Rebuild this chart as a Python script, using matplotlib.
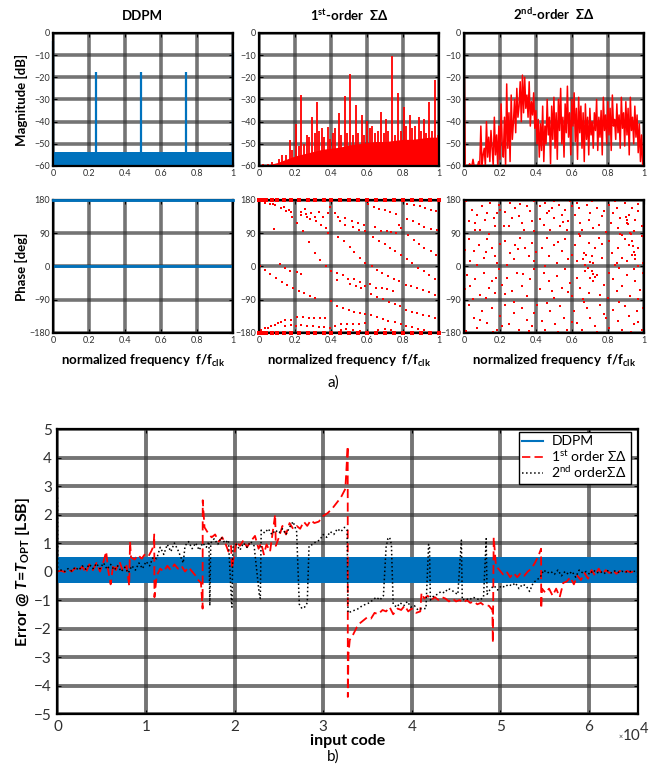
import matplotlib
matplotlib.use('Agg')
import matplotlib.pyplot as plt
from matplotlib.lines import Line2D

plt.rcParams['font.family'] = ['Lato', 'DejaVu Sans']
plt.rcParams['mathtext.fontset'] = 'custom'
plt.rcParams['mathtext.rm'] = 'Lato'
plt.rcParams['mathtext.bf'] = 'Lato:bold'
plt.rcParams['mathtext.it'] = 'Lato:italic'
plt.rcParams['mathtext.bfit'] = 'Lato:italic:bold'

BLUE = '#0072BD'
RED = '#FF0000'

# ---------------- datos: espectro (magnitud) ----------------
# DDPM
ddpm_floor_f = [0.0, 1.0]
ddpm_floor_db = [-53.6, -53.6]
ddpm_spur_f = [0.0, 0.24, 0.49, 0.74, 1.0]
ddpm_spur_db = [-3.5, -17.8, -17.5, -17.8, -8.5]

# 1er orden: envolvente del piso de ruido + espurios
sd1_floor_f = [0.0, 0.05, 0.1, 0.15, 0.2, 0.25, 0.3, 0.35, 0.4, 0.45, 0.5,
               0.55, 0.6, 0.65, 0.7, 0.75, 0.8, 0.85, 0.9, 0.95, 1.0]
sd1_floor_db = [-60, -59.5, -58.5, -57, -55.5, -54.5, -53.5, -52.5, -52, -51.5, -50.5,
                -50, -49.5, -49, -49, -48.5, -48, -48, -47.5, -47, -47]
sd1_spur_f = [0.0, 0.02, 0.05, 0.07, 0.09, 0.11, 0.13, 0.15, 0.17, 0.185, 0.207, 0.22,
              0.235, 0.25, 0.265, 0.28, 0.296, 0.31, 0.322, 0.335, 0.35, 0.36, 0.383,
              0.395, 0.41, 0.42, 0.443, 0.455, 0.476, 0.49, 0.504, 0.52, 0.537, 0.55,
              0.572, 0.585, 0.6, 0.615, 0.63, 0.645, 0.66, 0.681, 0.695, 0.707, 0.72,
              0.741, 0.755, 0.774, 0.79, 0.804, 0.82, 0.837, 0.85, 0.865, 0.887, 0.9,
              0.915, 0.93, 0.944, 0.96, 0.981, 0.994]
sd1_spur_db = [-4, -59, -59, -58, -59, -57, -55, -55, -48.5, -53, -41, -51,
               -28, -50, -46, -47, -38, -45, -31, -44, -43, -47, -42.5,
               -48, -45, -43, -36, -46, -28.4, -45, -18.4, -46, -32.4, -45,
               -37, -46, -39.5, -43, -42, -45, -44, -35.7, -45, -39, -44,
               -10.3, -46, -27, -44, -33.3, -42, -37, -43, -42, -38, -44,
               -39, -45, -31.2, -44, -21.4, -46]

# 2do orden: 161 puntos, f = i/160
sd2_mag_db = [-4, -60, -60, -60, -60, -59, -60, -60, -57, -60, -60, -60, -60, -58, -60,
              -42, -60, -55, -52, -60, -40, -56, -47, -58, -44, -52, -60, -38, -55, -46,
              -60, -42, -57, -32, -50, -56, -38, -60, -23, -52, -36, -58, -28, -48, -40,
              -30, -45, -25, -38, -33, -22, -40, -19, -36, -20, -34, -28, -38, -22, -42,
              -31, -37, -27, -43, -35, -50, -39, -56, -41, -53, -33, -58, -42, -50, -30,
              -46, -38, -59, -33, -48, -29, -52, -36, -57, -30, -44, -25, -50, -38, -56,
              -32, -45, -24, -47, -36, -55, -30, -42, -27, -49, -34, -57, -29, -45, -33,
              -52, -36, -58, -32, -48, -38, -55, -34, -46, -40, -52, -36, -44, -30, -53,
              -38, -47, -35, -55, -29, -44, -37, -50, -31, -46, -34, -53, -28, -42, -39,
              -48, -32, -45, -37, -52, -29, -43, -36, -51, -31, -46, -34, -55, -29, -44,
              -38, -50, -33, -47, -37, -54, -41, -58, -46, -60, -56]
sd2_mag_f = [i / 160 for i in range(len(sd2_mag_db))]

# ---------------- datos: fase ----------------
ddpm_ph_f = [0.0, 1.0]
ddpm_ph_zero = [0, 0]
ddpm_ph_top = [180, 180]

sd1_ph_f = [0.031, 0.059, 0.078, 0.091, 0.12, 0.139, 0.152, 0.165, 0.18, 0.185, 0.213, 0.231,
            0.235, 0.263, 0.269, 0.257, 0.291, 0.285, 0.319, 0.313, 0.333, 0.346, 0.356, 0.374,
            0.383, 0.393, 0.424, 0.439, 0.448, 0.48, 0.48, 0.517, 0.55, 0.583, 0.606, 0.639,
            0.67, 0.698, 0.731, 0.761, 0.776, 0.791, 0.824, 0.861, 0.894, 0.924, 0.957, 0.987,
            0.824, 0.856, 0.887, 0.92, 0.957, 0.991, 0.522, 0.554, 0.587, 0.646, 0.68, 0.713,
            0.735, 0.763, 0.083, 0.244, 0.383,
            0.439, 0.472, 0.504, 0.531, 0.559, 0.587, 0.278, 0.309, 0.341, 0.37, 0.402, 0.633,
            0.665, 0.698, 0.73, 0.759, 0.791, 0.822, 0.85, 0.883, 0.915, 0.944, 0.976, 0.828,
            0.861, 0.891, 0.92, 0.954, 0.985,
            0.004, 0.031, 0.063, 0.093, 0.128, 0.157, 0.189, 0.115, 0.143, 0.174, 0.213, 0.235,
            0.22, 0.25, 0.281, 0.313, 0.433, 0.465, 0.494, 0.526, 0.559, 0.591, 0.62, 0.652,
            0.683, 0.713, 0.743, 0.435, 0.506, 0.539, 0.569, 0.628, 0.654, 0.683, 0.717, 0.75,
            0.781, 0.817, 0.846, 0.876, 0.911, 0.943, 0.976, 0.402, 0.435, 0.467, 0.498, 0.528,
            0.559, 0.591, 0.624, 0.654, 0.691, 0.724, 0.754, 0.785, 0.817, 0.85, 0.88, 0.913,
            0.943, 0.976,
            0.624, 0.657, 0.687, 0.72, 0.754, 0.787, 0.82, 0.85, 0.883, 0.917,
            0.013, 0.031, 0.05, 0.069, 0.087, 0.106, 0.124, 0.146, 0.18, 0.213, 0.244, 0.276,
            0.306, 0.337, 0.365, 0.143, 0.176, 0.207, 0.235, 0.269, 0.3, 0.331, 0.361, 0.393,
            0.424, 0.457, 0.491, 0.522, 0.554, 0.587, 0.454, 0.485, 0.522, 0.559, 0.661, 0.698,
            0.735]
sd1_ph_deg = [171, 169, 169, 167, 158, 161, 149, 153, 147, 135, 117, 147,
              140, 143, 135, 155, 144, 129, 122, 135, 147, 113, 135, 104,
              144, 160, 144, 133, 122, 111, 131, 122, 117, 113, 169, 160,
              156, 152, 147, 142, 111, 104, 169, 167, 163, 158, 153, 149,
              129, 122, 116, 108, 102, 99, 106, 99, 95, 106, 97, 95,
              92, 90, 101, 95, 90,
              81, 68, 52, 39, 23, 9, 65, 36, 17, 2, -13, 79,
              70, 61, 51, 42, 32, 21, 9, -3, -13, -24, -34, 84,
              71, 61, 50, 41, 32,
              0, -9, -21, -31, -42, -50, -59, 6, -5, -11, -15, -21,
              -66, -72, -79, -86, -18, -24, -33, -34, -43, -52, -48, -57,
              -59, -61, -66, -36, -48, -54, -59, 0, -9, -18, -27, -34,
              -40, -50, -54, -59, -64, -69, -77, -93, -108, -113, -117, -122,
              -126, -129, -75, -82, -89, -95, -102, -108, -117, -122, -126, -131,
              -135, -140,
              -132, -136, -141, -147, -151, -156, -160, -164, -169, -172,
              -171, -167, -167, -162, -158, -153, -151, -146, -144, -138, -138, -140,
              -140, -140, -140, -160, -158, -160, -158, -160, -161, -163, -165, -167,
              -160, -156, -156, -156, -156, -154, -171, -169, -172, -174, -171, -169,
              -171]
# puntos sobre los bordes +-180
sd1_edge_f = [0.0, 0.02, 0.04, 0.07, 0.1, 0.14, 0.18, 0.22, 0.27, 0.31, 0.36, 0.4,
              0.45, 0.5, 0.55, 0.6, 0.65, 0.7, 0.75, 0.8, 0.85, 0.9, 0.95, 1.0]

sd2_ph_f = [0.044, 0.072, 0.1, 0.128, 0.119, 0.146, 0.165, 0.174, 0.183, 0.063, 0.091, 0.026,
            0.193, 0.23, 0.257, 0.285, 0.267, 0.304, 0.322, 0.331, 0.35, 0.248, 0.369, 0.378,
            0.387, 0.424, 0.452, 0.461, 0.443, 0.489, 0.498, 0.48, 0.526, 0.544, 0.535, 0.563,
            0.581, 0.572, 0.6, 0.628, 0.619, 0.646, 0.637, 0.656, 0.683, 0.702, 0.693, 0.72,
            0.739, 0.748, 0.767, 0.804, 0.831, 0.819, 0.85, 0.869, 0.859, 0.896, 0.915, 0.906,
            0.933, 0.952, 0.943, 0.97, 0.989, 0.924,
            0.026, 0.054, 0.081, 0.109, 0.128, 0.156, 0.174, 0.183, 0.035, 0.23, 0.257, 0.276,
            0.285, 0.313, 0.341, 0.359, 0.378, 0.387, 0.433, 0.461, 0.47, 0.498, 0.517, 0.544,
            0.563, 0.581, 0.619, 0.628, 0.646, 0.665, 0.693, 0.711, 0.72, 0.73, 0.748, 0.767,
            0.804, 0.822, 0.85, 0.859, 0.878, 0.896, 0.915, 0.933, 0.952, 0.97, 0.989, 0.998,
            0.906, 0.66, 0.675, 0.69, 0.70, 0.71, 0.68, 0.72, 0.73, 0.93, 0.935, 0.94, 0.945,
            0.95, 0.9, 0.905, 0.91,
            0.017, 0.035, 0.063, 0.091, 0.109, 0.137, 0.156, 0.174, 0.193, 0.211, 0.239, 0.267,
            0.294, 0.322, 0.35, 0.369, 0.387, 0.443, 0.47, 0.489, 0.517, 0.544, 0.563, 0.591,
            0.6, 0.628, 0.646, 0.674, 0.693, 0.72, 0.739, 0.757, 0.776, 0.804, 0.831, 0.85,
            0.878, 0.906, 0.924, 0.952, 0.98, 0.998, 0.943,
            0.026, 0.054, 0.072, 0.1, 0.128, 0.156, 0.183, 0.202, 0.23, 0.248, 0.276, 0.304,
            0.322, 0.35, 0.378, 0.406, 0.433, 0.452, 0.48, 0.507, 0.535, 0.554, 0.572, 0.609,
            0.628, 0.656, 0.683, 0.702, 0.73, 0.757, 0.776, 0.804, 0.831, 0.859, 0.878, 0.896,
            0.915, 0.943, 0.961, 0.989, 0.998,
            0.01, 0.06, 0.14, 0.2, 0.22, 0.31, 0.39, 0.42, 0.47, 0.5, 0.55, 0.59, 0.64, 0.71,
            0.78, 0.79, 0.84, 0.87, 0.97, 0.005, 0.07, 0.12, 0.2, 0.24, 0.3, 0.4, 0.45, 0.52,
            0.6, 0.77, 0.84, 0.88, 0.97, 0.005, 0.05, 0.12, 0.18, 0.23, 0.33, 0.42, 0.5, 0.58,
            0.66, 0.7, 0.8, 0.86, 0.97, 0.01, 0.09, 0.16, 0.21, 0.28, 0.36, 0.39, 0.46, 0.52,
            0.6, 0.67, 0.74, 0.79, 0.86, 0.93, 0.97]
sd2_ph_deg = [154, 140, 163, 145, 127, 172, 131, 109, 145, 118, 100, 122,
              166, 148, 172, 158, 131, 136, 118, 100, 163, 109, 149, 122,
              95, 163, 172, 145, 113, 158, 131, 100, 167, 140, 109, 154,
              122, 100, 163, 172, 140, 118, 158, 100, 167, 145, 127, 104,
              158, 113, 136, 167, 145, 118, 158, 131, 104, 172, 140, 118,
              158, 127, 97, 149, 109, 91,
              73, 41, 59, 23, 73, 50, 28, 10, 14, 68, 37, 19,
              59, 77, 50, 28, 64, 14, 50, 77, 28, 59, 10, 41,
              73, 19, 59, 14, 82, 37, 64, 28, 10, 50, 77, 23,
              68, 37, 10, 50, 23, 73, 59, 32, 19, 50, 82, 10,
              14, 20, 5, -5, 12, -12, 30, -20, -28, 88, 70, 55, 40,
              30, 135, 125, 115,
              -22, -54, -35, -76, -18, -58, -40, -72, -8, -49, -31, -67,
              -18, -54, -81, -35, -8, -18, -40, -67, -26, -58, -8, -45,
              -81, -31, -58, -13, -72, -40, -22, -76, -49, -18, -35, -67,
              -54, -22, -81, -40, -63, -18, -8,
              -103, -139, -166, -121, -153, -112, -171, -135, -103, -157, -126, -171,
              -112, -144, -162, -103, -148, -171, -121, -157, -108, -139, -171, -121,
              -153, -171, -112, -139, -162, -103, -130, -166, -117, -148, -171, -108,
              -135, -157, -121, -171, -112,
              176, 98, 88, 152, 110, 170, 176, 128, 150, 178, 120, 176, 88, 178,
              150, 92, 176, 88, 170, 45, 5, 40, 62, 4, 48, 40, 2, 66,
              30, 60, 5, 85, 2, -60, -88, -85, -30, -75, -20, -60, -85, -70,
              -88, -30, -85, -5, -88, -175, -145, -178, -160, -95, -175, -125, -100, -178,
              -150, -95, -178, -140, -95, -178, -150]

# ---------------- datos: error vs código de entrada ----------------
code_ticks = [0, 10000, 20000, 30000, 40000, 50000, 60000]
code_tick_labels = ['0', '1', '2', '3', '4', '5', '6']

ddpm_err_x = [0, 65535]
ddpm_err_top = [0.52, 0.52]
ddpm_err_bot = [-0.41, -0.41]

sd1_err_x = [0, 400, 800, 1200, 1600, 2000, 2400, 2800, 3200, 3600, 4000, 4400, 4800, 5200,
             5500, 5700, 6000, 6300, 6600, 7000, 7400, 7800, 8100, 8192, 8300, 8700, 9100,
             9500, 9900, 10300, 10600, 10850, 10923, 10950, 11200, 11600, 12000, 12400,
             12800, 13200, 13600, 14000, 14400, 14800, 15200, 15600, 15900, 16200, 16384,
             16400, 16600, 17000, 17400, 17800, 18200, 18600, 19000, 19300, 19600, 19700,
             20200, 20600, 21000, 21400, 21800, 22300, 22700, 23000, 23300, 23600, 24000,
             24576, 24650, 25000, 25400, 25800, 26200, 26600, 27000, 27400, 27800, 28200,
             28600, 29000, 29500, 30000, 30500, 31000, 31500, 32000, 32500, 32768, 32780,
             32850, 33000, 33400, 33800, 34200, 34600, 35000, 35400, 35800, 36200, 36700,
             37100, 37500, 37900, 38400, 38800, 39200, 39600, 40000, 40500, 40960, 41100,
             41400, 41800, 42200, 42600, 43000, 43400, 43800, 44200, 44600, 45000, 45400,
             45800, 46200, 46600, 47000, 47400, 47800, 48200, 48700, 49100, 49152, 49250,
             49500, 49900, 50300, 50700, 51100, 51500, 51900, 52300, 52700, 53100, 53500,
             53900, 54300, 54600, 54613, 54700, 55100, 55500, 55900, 56300, 56700, 57100,
             57500, 57900, 58300, 58700, 59100, 59500, 59900, 60300, 60700, 61100, 61500,
             61900, 62300, 62700, 63100, 63500, 63900, 64300, 64700, 65100, 65535]
sd1_err = [0.0, 0.03, -0.02, 0.08, 0.0, 0.12, 0.02, 0.18, -0.05, 0.25, 0.05, 0.3, 0.0, 0.35,
           0.7, 0.1, -0.45, 0.25, 0.05, 0.35, 0.0, 0.2, -0.5, 1.05, 0.5, 0.42, 0.58,
           0.45, 0.62, 0.55, 0.72, 0.9, 1.3, -0.9, -0.15, 0.1, 0.0, 0.2,
           0.05, 0.25, 0.1, 0.2, 0.0, 0.15, 0.0, -0.15, -0.3, -0.4, -1.3,
           2.5, 1.55, 1.35, 1.2, 1.3, 1.05, 1.2, 0.95, 0.7, 0.9, 0.1,
           1.05, 0.9, 1.1, 0.85, 1.05, 1.25, 0.8, 1.0, 0.6, 0.95, 0.7,
           2.0, 0.9, 1.2, 1.6, 1.3, 1.7, 1.5, 1.6, 1.5, 1.75, 1.6,
           1.8, 1.7, 1.75, 1.95, 2.05, 2.2, 2.4, 2.6, 2.9, 4.4, -4.4,
           -2.9, -2.4, -2.2, -1.95, -1.8, -1.7, -1.6, -1.65, -1.45, -1.5, -1.35,
           -1.4, -1.25, -1.5, -1.3, -1.35, -1.2, -1.4, -1.3, -1.45, -1.4, -0.75,
           -0.95, -0.85, -1.0, -0.9, -1.0, -0.9, -0.95, -1.05, -0.95, -1.05, -1.0,
           -1.1, -1.0, -1.1, -1.05, -1.15, -1.1, -1.2, -1.2, -1.35, -2.5, 1.2,
           0.2, 0.05, -0.1, 0.0, -0.2, -0.05, -0.2, -0.05, -0.15, 0.0, 0.1,
           0.3, 0.55, 0.8, -1.3, -0.6, -0.75, -0.6, -0.85, -0.6, -0.9, -0.4,
           -0.35, -0.2, -0.45, -0.15, -0.3, -0.05, -0.25, 0.05, -0.15, 0.1, -0.1,
           0.05, -0.05, 0.05, -0.08, 0.02, -0.05, 0.02, -0.03, 0.01, 0.0]

sd2_err_x = [0, 30, 400, 800, 1200, 1600, 2000, 2400, 2800, 3200, 3600, 4000, 4400, 4800,
             5200, 5600, 6000, 6400, 6800, 7200, 7600, 8000, 8400, 8800, 9200, 9600, 10000,
             10400, 10800, 11200, 11600, 12000, 12400, 12800, 13200, 13600, 14000, 14200,
             14400, 14800, 15200, 15600, 16000, 16400, 16800, 17100, 17200, 17300, 17700,
             18100, 18500, 18900, 19300, 19650, 19700, 19800, 20200, 20600, 21000, 21400,
             21800, 22200, 22800, 22900, 23000, 23400, 23800, 24200, 24600, 25000, 25400,
             25800, 26200, 26600, 27000, 27300, 27600, 27900, 28200, 28400, 28800, 29200,
             29600, 30000, 30400, 30800, 31200, 31600, 32000, 32400, 32700, 32800, 33200,
             33600, 34000, 34400, 34800, 35200, 35600, 36000, 36400, 36800, 37100, 37300,
             37500, 37700, 37900, 38300, 38700, 39100, 39500, 39900, 40300, 40700, 41100,
             41600, 41900, 42000, 42100, 42500, 42900, 43300, 43700, 44100, 44500, 44900,
             45200, 45600, 45700, 46100, 46500, 46900, 47300, 47700, 48100, 48400, 48500,
             48900, 49300, 49700, 50100, 50500, 50900, 51300, 51700, 52100, 52500, 52900,
             53300, 53700, 54100, 54500, 54900, 55300, 55700, 56100, 56500, 56900, 57300,
             57700, 58100, 58500, 58900, 59300, 59700, 60100, 60500, 60900, 61300, 61700,
             62100, 62500, 62900, 63300, 63700, 64100, 64500, 64900, 65500, 65535]
sd2_err = [2.6, 0.0, 0.05, 0.0, 0.1, 0.02, 0.15, 0.05, 0.2, 0.08, 0.25, 0.1, 0.28, 0.1,
           0.3, 0.08, 0.25, 0.05, 0.2, 0.0, 0.15, -0.05, 0.2, 0.05, 0.3, 0.1, 0.35,
           0.2, 0.5, 0.45, 0.85, 0.6, 0.95, 0.7, 1.0, 0.75, 0.45, 0.3,
           0.9, 1.05, 0.8, 1.0, 0.75, 1.0, 0.85, 1.05, -1.2, 1.0, 1.15,
           0.95, 1.2, 1.0, 1.1, -1.1, -1.25, 0.85, 0.95, 0.75, 1.0, 0.85,
           1.05, 0.9, -0.85, -0.95, 1.45, 1.35, 1.5, 1.3, 1.45, 1.35, 1.5,
           1.3, 1.55, 1.75, 1.4, -1.15, -1.3, -1.25, -1.1, 0.9, 0.95, 1.05,
           1.1, 1.3, 1.2, 1.4, 1.3, 1.5, 1.4, 1.55, 1.45, -1.45, -1.4,
           -1.35, -1.3, -1.2, -1.15, -1.1, -1.0, -0.9, -1.0, -0.85, 0.85, 1.15,
           1.2, 0.95, -1.15, -1.25, -1.1, -1.2, -1.05, -1.25, -1.2, -1.35, -1.3,
           -1.3, 0.95, 0.85, -1.0, -0.85, -0.8, -0.7, -0.75, -0.6, -0.65, -0.75,
           -0.8, 1.1, -1.0, -0.95, -1.0, -0.9, -0.95, -1.0, -0.9, 1.15, -0.8,
           -0.6, -0.5, -0.65, -0.5, -0.55, -0.45, -0.5, -0.4, -0.6, -0.45, -0.5,
           -0.7, -0.4, -0.3, -0.2, 0.05, -0.05, 0.0, -0.1, 0.05, -0.15, 0.0,
           -0.1, 0.0, -0.2, 0.05, -0.05, 0.0, -0.1, 0.05, -0.05, 0.0, -0.08,
           0.03, -0.05, 0.02, -0.03, 0.01, -0.02, 0.0, 0.01, 0.0, -2.6]


def estilo(ax, fs, lw_grid=2.6, pad=2):
    ax.grid(True, color='0.2', lw=lw_grid, alpha=0.68)
    for s in ax.spines.values():
        s.set_linewidth(1.6)
        s.set_color('black')
        s.set_zorder(4)
    ax.tick_params(direction='in', length=3, width=0.8, labelsize=fs,
                   labelcolor='#303030', pad=pad, top=True, right=True)


fig = plt.figure(figsize=(6.66, 7.72), dpi=100)

col_left = [0.0796, 0.3889, 0.6967]
col_w = 0.2700
row_bot = [0.785, 0.5687]
row_h = 0.1723

titulos = ['DDPM', r'1$^{\mathbf{st}}$-order  ΣΔ', r'2$^{\mathbf{nd}}$-order  ΣΔ']
fx = [0, 0.2, 0.4, 0.6, 0.8, 1]

ax_mag = [fig.add_axes([col_left[i], row_bot[0], col_w, row_h]) for i in range(3)]
ax_ph = [fig.add_axes([col_left[i], row_bot[1], col_w, row_h]) for i in range(3)]

# magnitud
a = ax_mag[0]
a.fill_between(ddpm_floor_f, -60, ddpm_floor_db, color=BLUE, lw=0, zorder=2)
a.vlines(ddpm_spur_f, -60, ddpm_spur_db, color=BLUE, lw=1.6, zorder=3, clip_on=False)

a = ax_mag[1]
a.fill_between(sd1_floor_f, -60, sd1_floor_db, color=RED, lw=0, zorder=2)
a.vlines(sd1_spur_f, -60, sd1_spur_db, color=RED, lw=1.3, zorder=3, clip_on=False)

a = ax_mag[2]
a.plot(sd2_mag_f, sd2_mag_db, color=RED, lw=1.1, zorder=3)

for i, a in enumerate(ax_mag):
    a.set_xlim(0, 1)
    a.set_ylim(-60, 0)
    a.set_xticks(fx)
    a.set_xticklabels(['0', '0.2', '0.4', '0.6', '0.8', '1'])
    a.set_yticks([-60, -50, -40, -30, -20, -10, 0])
    estilo(a, 6.5)
    a.set_title(titulos[i], fontsize=9.5, fontweight='bold', pad=9)
ax_mag[0].set_ylabel('Magnitude [dB]', fontsize=9.5, fontweight='bold')
ax_mag[0].yaxis.set_label_coords(-0.14, 0.5)

# fase
a = ax_ph[0]
a.plot(ddpm_ph_f, ddpm_ph_zero, color=BLUE, lw=2, zorder=3)
a.plot(ddpm_ph_f, ddpm_ph_top, color=BLUE, lw=2, zorder=5, clip_on=False)

a = ax_ph[1]
a.plot(sd1_ph_f, sd1_ph_deg, ls='none', marker='s', ms=1.6, mew=0, color=RED, zorder=3)
a.plot(sd1_edge_f, [180] * len(sd1_edge_f), ls='none', marker='s', ms=2.2, mew=0,
       color=RED, zorder=5, clip_on=False)
a.plot(sd1_edge_f, [-180] * len(sd1_edge_f), ls='none', marker='s', ms=2.2, mew=0,
       color=RED, zorder=5, clip_on=False)

a = ax_ph[2]
a.plot(sd2_ph_f, sd2_ph_deg, ls='none', marker='s', ms=1.6, mew=0, color=RED, zorder=3)

for a in ax_ph:
    a.set_xlim(0, 1)
    a.set_ylim(-180, 180)
    a.set_xticks(fx)
    a.set_xticklabels(['0', '0.2', '0.4', '0.6', '0.8', '1'])
    a.set_yticks([-180, -90, 0, 90, 180])
    estilo(a, 6.5)
    a.set_xlabel(r'normalized frequency  f/f$_{\mathbf{clk}}$', fontsize=9.5,
                 fontweight='bold')
    a.xaxis.set_label_coords(0.5, -0.15)
ax_ph[0].set_ylabel('Phase [deg]', fontsize=9.5, fontweight='bold')
ax_ph[0].yaxis.set_label_coords(-0.14, 0.5)

fig.text(0.5, 1 - 383 / 772, 'a)', ha='center', va='center', fontsize=11)

# error vs código
ax = fig.add_axes([0.0863, 0.0751, 0.8716, 0.3692])
ax.fill_between(ddpm_err_x, ddpm_err_bot, ddpm_err_top, color=BLUE, lw=0, zorder=2)
ax.plot(sd1_err_x, sd1_err, color=RED, ls='--', dashes=(5, 2.5), lw=1.3, zorder=3)
ax.plot(sd2_err_x, sd2_err, color='black', ls=':', lw=1.1, zorder=4)
ax.set_xlim(0, 65536)
ax.set_ylim(-5, 5)
ax.set_xticks(code_ticks)
ax.set_xticklabels(code_tick_labels)
ax.set_yticks(range(-5, 6))
estilo(ax, 11, lw_grid=2.8, pad=4)
ax.set_xlabel('input code', fontsize=11.5, fontweight='bold', labelpad=0)
ax.set_ylabel(r'Error @ $\mathbfit{T}$=$\mathbfit{T}_{\mathbf{OPT}}$ [LSB]',
              fontsize=11.5, fontweight='bold')
ax.yaxis.set_label_coords(-0.044, 0.5)

# multiplicador del eje x
fig.text(619 / 666, 1 - 736 / 772, '×', ha='left', va='center', fontsize=5,
         color='#303030')
fig.text(623 / 666, 1 - 736 / 772, '10', ha='left', va='center', fontsize=11,
         color='#303030')
fig.text(640 / 666, 1 - 729 / 772, '4', ha='left', va='center', fontsize=10.5,
         color='#303030')

handles = [Line2D([], [], color=BLUE, lw=1.5),
           Line2D([], [], color=RED, ls='--', dashes=(5, 2.5), lw=1.2),
           Line2D([], [], color='black', ls=':', lw=1.1)]
labels = ['DDPM', r'1$^{\mathrm{st}}$ order ΣΔ', r'2$^{\mathrm{nd}}$ orderΣΔ']
leg = ax.legend(handles, labels, loc='upper right', bbox_to_anchor=(0.988, 0.9895),
                fontsize=10, frameon=True, fancybox=False, framealpha=1,
                edgecolor='black', borderpad=0.25, labelspacing=0.05,
                handlelength=1.5, handletextpad=0.6, borderaxespad=0)
leg.get_frame().set_linewidth(1.0)

fig.text(0.5, 1 - 757 / 772, 'b)', ha='center', va='center', fontsize=11)

fig.savefig('out.png', dpi=100)
